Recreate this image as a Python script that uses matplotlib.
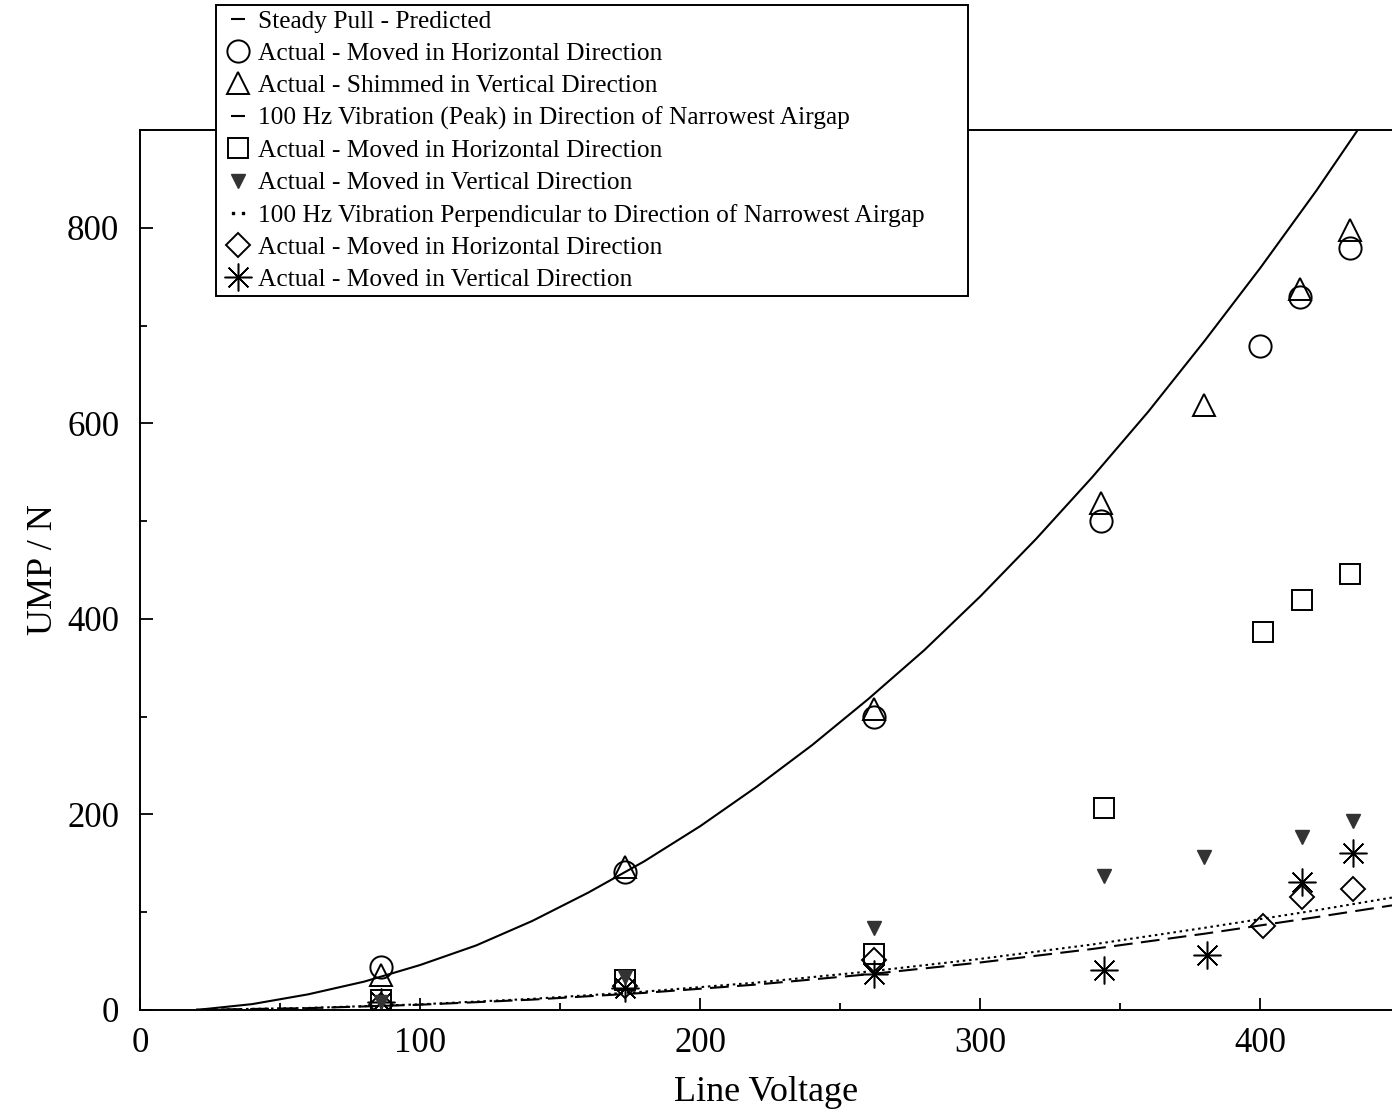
import numpy as np
import matplotlib
matplotlib.use('Agg')
import matplotlib.pyplot as plt
from matplotlib.lines import Line2D
from matplotlib.ticker import MultipleLocator

plt.rcParams['font.family'] = ['Liberation Serif', 'DejaVu Serif']

# predicted curves
v_pred = [20, 40, 60, 80, 100, 120, 140, 160, 180, 200, 220, 240, 260,
          280, 300, 320, 340, 360, 380, 400, 420, 440]
ump_pred = [0, 6, 16, 29, 46, 66, 91, 120, 152, 188, 228, 271, 318,
            368, 423, 482, 545, 612, 684, 759, 838, 922]

v_vib = [20, 60, 100, 140, 180, 220, 260, 300, 340, 380, 420, 447]
vib_peak = [0.2, 1.9, 5.4, 10.6, 17.5, 26, 36.5, 48.6, 62.4, 78, 95, 107]
vib_perp = [0.2, 2.1, 5.8, 11.4, 18.8, 28, 39.3, 52.3, 67, 84, 102, 115]

# measured points
v_circ = [86, 173, 262, 343, 400, 414, 432]
circ = [44, 141, 300, 500, 679, 729, 779]

v_tri = [86, 173, 262, 343, 380, 414, 432]
tri = [36, 146, 308, 519, 619, 737, 798]

v_sq = [86, 173, 262, 344, 401, 415, 432]
sq = [10, 31, 57, 207, 387, 419, 446]

v_vtri = [86, 173, 262, 344, 380, 415, 433]
vtri = [8, 34, 84, 137, 156, 177, 193]

v_dia = [86, 173, 262, 401, 415, 433]
dia = [5, 25, 51, 86, 116, 124]

v_ast = [86, 173, 262, 344, 381, 415, 433]
ast = [8, 22, 37, 41, 56, 131, 161]

labels = ['Steady Pull - Predicted',
          'Actual - Moved in Horizontal Direction',
          'Actual - Shimmed in Vertical Direction',
          '100 Hz Vibration (Peak) in Direction of Narrowest Airgap',
          'Actual - Moved in Horizontal Direction',
          'Actual - Moved in Vertical Direction',
          '100 Hz Vibration Perpendicular to Direction of Narrowest Airgap',
          'Actual - Moved in Horizontal Direction',
          'Actual - Moved in Vertical Direction']

fig = plt.figure(figsize=(13.92, 11.12), dpi=100)
ax = fig.add_axes([140/1392, 1-1010/1112, 1-140/1392, 880/1112])

ax.plot(v_pred, ump_pred, color='k', lw=1.5)
ax.plot(v_vib, vib_peak, color='k', lw=1.5, ls=(0, (9, 4)))
ax.plot(v_vib, vib_perp, color='k', lw=1.5, ls=(0, (1.2, 1.8)))

mk = dict(ls='none', mfc='none', mec='k', mew=1.4)
star = (8, 2, 0)
ax.plot(v_sq, sq, marker='s', ms=15, **mk)
ax.plot(v_dia, dia, marker='D', ms=12, **mk)
ax.plot(v_ast, ast, marker=star, ms=20, ls='none', color='k', mew=1.1)
ax.plot(v_vtri, vtri, marker='v', ms=10, ls='none', color='#333333')
ax.plot(v_tri, tri, marker='^', ms=16, **mk)
ax.plot(v_circ, circ, marker='o', ms=16, **mk)

ax.set_xlim(0, 447)
ax.set_ylim(0, 900)
ax.xaxis.set_major_locator(MultipleLocator(100))
ax.xaxis.set_minor_locator(MultipleLocator(50))
ax.yaxis.set_major_locator(MultipleLocator(200))
ax.yaxis.set_minor_locator(MultipleLocator(100))
ax.tick_params(which='both', direction='in', top=False, right=False,
               labelsize=25, width=1.3)
ax.tick_params(which='major', length=9)
ax.tick_params(which='minor', length=5)
ax.tick_params(axis='y', pad=15)
ax.tick_params(axis='x', pad=12)
ax.spines['right'].set_visible(False)
for s in ['left', 'bottom', 'top']:
    ax.spines[s].set_linewidth(1.4)

ax.set_xlabel('Line Voltage', fontsize=26, labelpad=12)
ax.set_ylabel('UMP / N', fontsize=26, labelpad=5)

handles = [
    Line2D([], [], ls='none', marker='_', ms=10, mew=1.5, color='k'),
    Line2D([], [], marker='o', ms=16, **mk),
    Line2D([], [], marker='^', ms=16, **mk),
    Line2D([], [], ls='none', marker='_', ms=10, mew=1.5, color='k'),
    Line2D([], [], marker='s', ms=15, **mk),
    Line2D([], [], marker='v', ms=10, ls='none', color='#333333'),
    Line2D([], [], ls='none', marker=r'$\cdot\cdot$', ms=8, color='k'),
    Line2D([], [], marker='D', ms=12, **mk),
    Line2D([], [], marker=star, ms=20, ls='none', color='k', mew=1.1),
]
leg = fig.legend(handles, labels, loc='upper left', mode='expand',
                 bbox_to_anchor=(216/1392, 1-293/1112, 752/1392, 288/1112),
                 borderaxespad=0,
                 fontsize=18.3, handlelength=1.3, handletextpad=0.15,
                 borderpad=0.2, labelspacing=0.37, fancybox=False,
                 framealpha=1, edgecolor='k')
leg.get_frame().set_linewidth(1.4)

fig.savefig('out.png', dpi=100)
